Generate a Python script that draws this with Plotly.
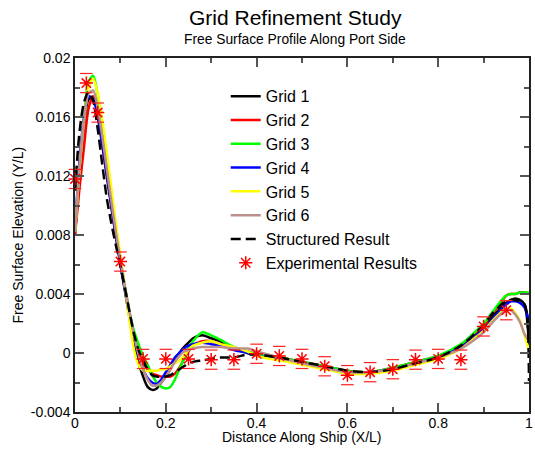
import plotly.graph_objects as go

# ---------------- data ----------------
X = [0, 0.01, 0.02, 0.03, 0.04, 0.05, 0.06, 0.07, 0.08, 0.09, 0.10, 0.11, 0.12, 0.13,
     0.14, 0.15, 0.16, 0.17, 0.18, 0.19, 0.20, 0.21, 0.22, 0.23, 0.24, 0.25, 0.26,
     0.28, 0.30, 0.32, 0.35, 0.38, 0.40, 0.45, 0.50, 0.55, 0.60, 0.65, 0.70, 0.75,
     0.80, 0.85, 0.88, 0.90, 0.92, 0.94, 0.95, 0.96, 0.97, 0.98, 0.99, 1.0]

GRID1 = [0.0080, 0.0122, 0.0155, 0.0172, 0.0173, 0.0160, 0.0141, 0.0120, 0.0099, 0.0079, 0.0060,
         0.0042, 0.0024, 0.0008, -0.0006, -0.0016, -0.0023, -0.0025, -0.0024, -0.0020, -0.0016,
         -0.0011, -0.0005, 0.0000, 0.0004, 0.0007, 0.0010, 0.0012, 0.0010, 0.0008, 0.0003,
         0.0000, -0.0002, -0.0004, -0.0007, -0.0010, -0.0013, -0.0013, -0.0011, -0.0007,
         -0.0003, 0.0004, 0.0012, 0.0018, 0.0025, 0.0031, 0.0034, 0.0036, 0.0037, 0.0036,
         0.0033, 0.0005]
GRID2 = [0.0080, 0.0112, 0.0140, 0.0166, 0.0174, 0.0163, 0.0144, 0.0123, 0.0102, 0.0081, 0.0062,
         0.0044, 0.0027, 0.0012, 0.0000, -0.0007, -0.0011, -0.0014, -0.0015, -0.0016, -0.0016,
         -0.0016, -0.0014, -0.0010, -0.0004, 0.0001, 0.0005, 0.0008, 0.0008, 0.0006, 0.0004,
         0.0001, -0.0001, -0.0003, -0.0006, -0.0009, -0.0012, -0.0013, -0.0010, -0.0006,
         -0.0002, 0.0005, 0.0013, 0.0019, 0.0027, 0.0035, 0.0039, 0.0040, 0.0040, 0.0041,
         0.0041, 0.0040]
GRID3 = [0.0082, 0.0125, 0.0160, 0.0184, 0.0188, 0.0175, 0.0155, 0.0132, 0.0108, 0.0085, 0.0064,
         0.0045, 0.0028, 0.0015, 0.0006, -0.0002, -0.0008, -0.0015, -0.0020, -0.0023, -0.0024,
         -0.0023, -0.0018, -0.0011, -0.0004, 0.0003, 0.0008, 0.0014, 0.0012, 0.0009, 0.0004,
         0.0001, -0.0001, -0.0003, -0.0006, -0.0009, -0.0012, -0.0013, -0.0010, -0.0006,
         -0.0002, 0.0006, 0.0014, 0.0020, 0.0028, 0.0036, 0.0039, 0.0040, 0.0040, 0.0041,
         0.0041, 0.0041]
GRID4 = [0.0085, 0.0130, 0.0160, 0.0174, 0.0172, 0.0161, 0.0143, 0.0122, 0.0101, 0.0080, 0.0061,
         0.0043, 0.0026, 0.0011, -0.0002, -0.0011, -0.0017, -0.0020, -0.0021, -0.0018, -0.0013,
         -0.0008, -0.0003, 0.0000, 0.0003, 0.0005, 0.0006, 0.0007, 0.0006, 0.0005, 0.0002,
         0.0000, -0.0002, -0.0004, -0.0007, -0.0010, -0.0013, -0.0013, -0.0011, -0.0007,
         -0.0003, 0.0004, 0.0011, 0.0016, 0.0023, 0.0030, 0.0033, 0.0035, 0.0035, 0.0034,
         0.0031, 0.0022]
GRID5 = [0.0082, 0.0125, 0.0158, 0.0180, 0.0186, 0.0176, 0.0158, 0.0136, 0.0112, 0.0088, 0.0066,
         0.0045, 0.0022, 0.0002, -0.0008, -0.0012, -0.0012, -0.0012, -0.0012, -0.0011, -0.0011,
         -0.0009, -0.0007, -0.0005, -0.0002, 0.0002, 0.0005, 0.0007, 0.0008, 0.0006, 0.0004,
         0.0001, -0.0002, -0.0005, -0.0008, -0.0011, -0.0014, -0.0014, -0.0012, -0.0008,
         -0.0004, 0.0003, 0.0010, 0.0015, 0.0022, 0.0028, 0.0030, 0.0030, 0.0027, 0.0022,
         0.0012, 0.0002]
GRID6 = [0.0082, 0.0125, 0.0158, 0.0176, 0.0178, 0.0166, 0.0147, 0.0125, 0.0103, 0.0082, 0.0063,
         0.0045, 0.0028, 0.0012, -0.0001, -0.0011, -0.0018, -0.0022, -0.0022, -0.0020, -0.0016,
         -0.0011, -0.0006, -0.0002, 0.0001, 0.0002, 0.0003, 0.0004, 0.0004, 0.0004, 0.0003,
         0.0003, 0.0001, -0.0003, -0.0007, -0.0010, -0.0013, -0.0013, -0.0011, -0.0007,
         -0.0003, 0.0003, 0.0009, 0.0014, 0.0021, 0.0027, 0.0029, 0.0029, 0.0026, 0.0021,
         0.0013, 0.0008]

X_STRUCT = X[:-1] + [0.996, 1.0]
STRUCT = [0.0110, 0.0150, 0.0170, 0.0177, 0.0171, 0.0152, 0.0128, 0.0105, 0.0088, 0.0073, 0.0059,
          0.0044, 0.0028, 0.0013, 0.0002, -0.0005, -0.0011, -0.0015, -0.0016, -0.0016, -0.0016,
          -0.0015, -0.0013, -0.0011, -0.0009, -0.0007, -0.0006, -0.0005, -0.0004, -0.0003, -0.0003,
          -0.0001, -0.0001, -0.0003, -0.0006, -0.0009, -0.0012, -0.0013, -0.0011, -0.0007,
          -0.0003, 0.0005, 0.0013, 0.0019, 0.0027, 0.0033, 0.0035, 0.0036, 0.0036, 0.0035,
          0.0033, 0.0025, -0.0019]

EXP_X = [0, 0.025, 0.05, 0.1, 0.15, 0.2, 0.25, 0.3, 0.35, 0.4, 0.45, 0.5, 0.55, 0.6, 0.65,
         0.7, 0.75, 0.8, 0.85, 0.9, 0.95]
EXP_Y = [0.0118, 0.0183, 0.0163, 0.0062, -0.0004, -0.0004, -0.0004, -0.00045, -0.00045,
         -0.00005, -0.0002, -0.0004, -0.0009, -0.0015, -0.0013, -0.0011, -0.00045, -0.0004,
         -0.00045, 0.0018, 0.0029]
EXP_ERR = [0.00065] * len(EXP_X)

Y_TICKS = [-0.004, 0, 0.004, 0.008, 0.012, 0.016, 0.02]
Y_TICKTEXT = ["-0.004", "0", "0.004", "0.008", "0.012", "0.016", "0.02"]
X_TICKS = [0, 0.2, 0.4, 0.6, 0.8, 1.0]
X_TICKTEXT = ["0", "0.2", "0.4", "0.6", "0.8", "1"]

FONT = "Liberation Sans, Arial, Helvetica, sans-serif"

series = [
    ("Grid 1", GRID1, "#000000"),
    ("Grid 2", GRID2, "#ff0000"),
    ("Grid 3", GRID3, "#00ff00"),
    ("Grid 4", GRID4, "#0000ff"),
    ("Grid 5", GRID5, "#ffff00"),
    ("Grid 6", GRID6, "#bc8f8f"),
]

fig = go.Figure()
for name, ys, col in series:
    fig.add_trace(go.Scatter(x=X, y=ys, mode="lines", name=name,
                             line=dict(color=col, width=2.5, shape="spline", smoothing=0.8)))
fig.add_trace(go.Scatter(x=X_STRUCT, y=STRUCT, mode="lines", name="Structured Result",
                         line=dict(color="#000000", width=2.5, dash="10px,5px",
                                   shape="spline", smoothing=0.8)))

# error caps (short horizontal bars above / below each point)
up = [y + e for y, e in zip(EXP_Y, EXP_ERR)]
dn = [y - e for y, e in zip(EXP_Y, EXP_ERR)]
for yy in (up, dn):
    fig.add_trace(go.Scatter(x=EXP_X, y=yy, mode="markers", showlegend=False, cliponaxis=False,
                             hoverinfo="skip",
                             marker=dict(symbol="line-ew-open", size=9, color="#ff2020",
                                         line=dict(color="#ff2020", width=1.2))))
fig.add_trace(go.Scatter(x=EXP_X, y=EXP_Y, mode="markers", name="Experimental Results",
                         cliponaxis=False,
                         marker=dict(symbol="asterisk-open", size=11, color="#ff0000",
                                     line=dict(color="#ff0000", width=1.5))))

axis_common = dict(showline=True, linecolor="#222222", linewidth=1.5, mirror="allticks",
                   ticks="inside", ticklen=9, tickwidth=1.5, tickcolor="#555555",
                   showgrid=False, zeroline=False, ticklabeloverflow="allow",
                   tickfont=dict(family=FONT, size=14, color="#000000"))

fig.update_xaxes(range=[0, 1], tickvals=X_TICKS, ticktext=X_TICKTEXT, ticklabelstandoff=-3,
                 minor=dict(ticks="inside", ticklen=5, dtick=0.1, tickwidth=1.5,
                            tickcolor="#555555", showgrid=False),
                 **axis_common)
fig.update_yaxes(range=[-0.004, 0.02], tickvals=Y_TICKS, ticktext=Y_TICKTEXT,
                 minor=dict(ticks="inside", ticklen=5, dtick=0.002, tick0=0, tickwidth=1.5,
                            tickcolor="#555555", showgrid=False),
                 **axis_common)

fig.update_layout(
    width=535, height=449,
    margin=dict(l=75, r=2, t=58, b=37),
    paper_bgcolor="white", plot_bgcolor="white",
    showlegend=True,
    legend=dict(x=0.332, y=0.94, xanchor="left", yanchor="top",
                bgcolor="rgba(0,0,0,0)", borderwidth=0,
                font=dict(family=FONT, size=16, color="#000000")),
    annotations=[
        dict(text="Grid Refinement Study", x=0.4847, y=1.115, xref="paper", yref="paper",
             showarrow=False, xanchor="center", yanchor="middle",
             font=dict(family=FONT, size=21, color="#000000")),
        dict(text="Free Surface Profile Along Port Side", x=0.4847, y=1.053, xref="paper",
             yref="paper", showarrow=False, xanchor="center", yanchor="middle",
             font=dict(family=FONT, size=13.8, color="#000000")),
        dict(text="Distance Along Ship (X/L)", x=0.5, y=-0.072, xref="paper", yref="paper",
             showarrow=False, xanchor="center", yanchor="middle",
             font=dict(family=FONT, size=14, color="#000000")),
        dict(text="Free Surface Elevation (Y/L)", x=-0.1266, y=0.5, xref="paper", yref="paper",
             showarrow=False, xanchor="center", yanchor="middle", textangle=-90,
             font=dict(family=FONT, size=14, color="#000000")),
    ],
)

fig.write_html("out.html")
